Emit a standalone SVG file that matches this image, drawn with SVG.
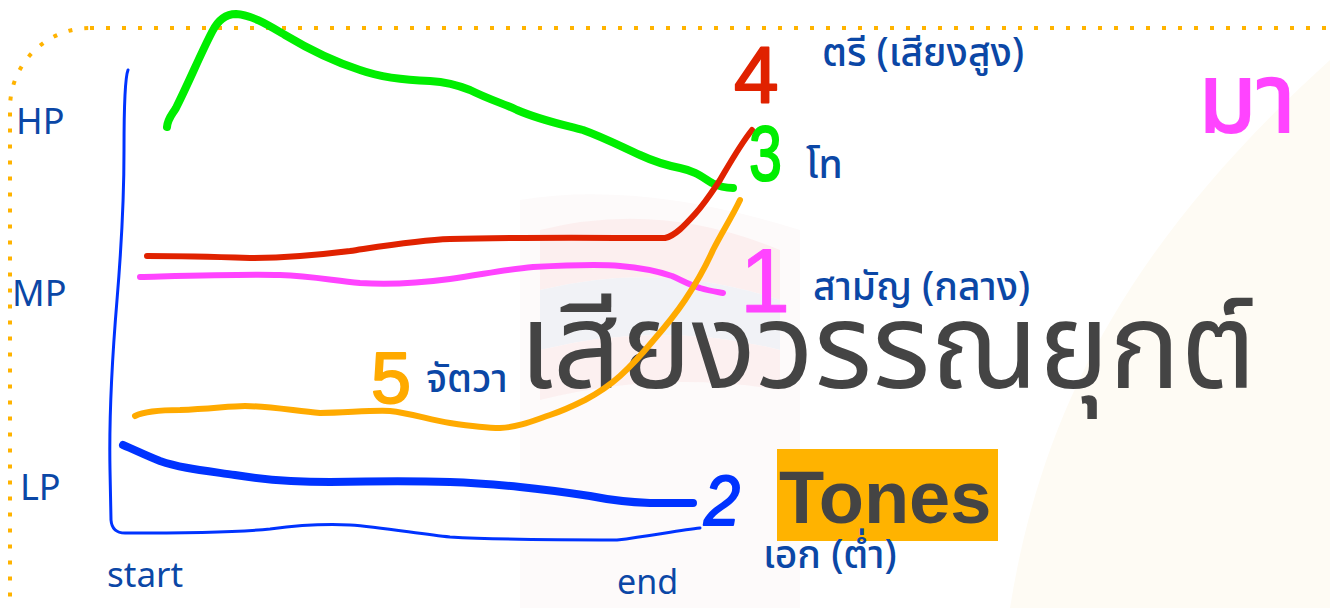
<svg xmlns="http://www.w3.org/2000/svg" width="1330" height="608" viewBox="0 0 1330 608">
<style>
.lbl{font-family:"Noto Sans Thai","Noto Sans","Liberation Sans",sans-serif;fill:#0b47a6}
.th{font-family:"Noto Sans Thai","Noto Sans","DejaVu Sans",sans-serif;fill:#0b47a6;font-weight:500;font-size:39px}
.hand{fill:none;stroke-linecap:round;stroke-linejoin:round}
.dig{font-family:"Liberation Sans",sans-serif;stroke-linejoin:round;stroke-linecap:round}
</style>
<rect width="1330" height="608" fill="#ffffff"/>
<g id="background">
<path d="M1010 608 C1040 420 1120 250 1330 60 L1330 608 Z" fill="#fefbf4"/>
<path d="M520 610 L520 200 Q640 180 800 230 L800 610 Z" fill="#fdfafa"/>
<path d="M540 230 Q660 200 780 250 L780 300 Q660 260 540 290 Z" fill="#fcefef"/>
<path d="M540 290 Q660 260 780 300 L780 350 Q660 320 540 350 Z" fill="#f1f2f6"/>
<path d="M540 350 Q660 320 780 350 L780 390 Q660 370 540 400 Z" fill="#fcf0f0"/>
</g>
<rect id="frame" x="10" y="28" width="1500" height="700" rx="80" fill="none" stroke="#ffb300" stroke-width="4" stroke-dasharray="4 12"/>
<g id="title">
<text x="519" y="388" font-family="'Noto Sans Thai','Noto Sans','DejaVu Sans',sans-serif" font-size="119" fill="#444444">เสียงวรรณยุกต์</text>
</g>
<g id="tones">
<rect x="777" y="449" width="221" height="92" fill="#ffb300"/>
<text x="779" y="523" font-family="'Liberation Sans',sans-serif" font-weight="bold" font-size="74" fill="#444444">Tones</text>
</g>
<g id="axis-labels">
<text class="lbl" x="16" y="134" font-size="36">HP</text>
<text class="lbl" x="12" y="306" font-size="36">MP</text>
<text class="lbl" x="20" y="500" font-size="36">LP</text>
<text class="lbl" x="107" y="587" font-size="35">start</text>
<text class="lbl" x="617" y="594" font-size="34">end</text>
</g>
<g id="connectors">
<path id="axis" class="hand" stroke="#0033ff" stroke-width="3" d="M128 70 C124 80 124 120 124 150 C124 200 122 240 117 300 C112 360 109 420 110 470 L111 520 Q112 533 125 533 C180 533 240 532 270 529 C300 525 330 524 350 525 C380 527 420 534 450 537 C500 540 560 540 617 540 C650 536 680 530 700 528"/>
<path id="tone3-line" class="hand" stroke="#00ee00" stroke-width="8" d="M167 127 C168 118 172 115 176 108 C190 80 200 55 212 32 C218 20 226 14 236 14 C252 15 268 25 285 35 C310 50 335 62 360 70 C380 77 400 80 430 81 C445 82 455 84 470 90 C490 100 505 104 517 110 C540 120 560 124 583 130 C605 138 620 146 640 155 C655 162 665 165 680 168 C695 171 702 177 712 183 C720 187 726 188 733 188"/>
<path id="tone4-line" class="hand" stroke="#e02200" stroke-width="6" d="M147 256 C190 256 220 257 250 258 C280 258 310 256 350 251 C390 245 420 240 450 239 C520 237 600 238 665 238 C675 236 685 225 695 214 C705 203 712 192 720 180 C730 163 740 145 752 130"/>
<path id="tone1-line" class="hand" stroke="#ff44ff" stroke-width="6" d="M140 277 C180 276 240 274 280 275 C310 276 330 280 360 283 C390 285 420 283 450 279 C490 273 510 269 533 267 C570 265 600 264 620 266 C645 268 660 272 672 276 C685 282 692 286 700 288 C710 291 718 292 723 293"/>
<path id="tone5-line" class="hand" stroke="#ffaa00" stroke-width="6" d="M135 416 C145 411 165 410 180 410 C210 409 230 406 245 406 C265 406 290 410 320 413 C345 413 370 410 390 411 C410 413 430 420 450 423 C470 426 485 428 500 428 C520 427 535 420 550 415 C565 410 575 405 585 400 C600 392 610 385 620 376 C632 365 642 354 652 342 C665 327 675 315 685 300 C695 285 705 268 713 250 C722 232 732 217 740 200"/>
<path id="tone2-line" class="hand" stroke="#0033ff" stroke-width="8" d="M123 445 C135 450 145 455 160 461 C180 468 200 470 235 475 C260 479 290 482 330 482 C380 481 420 481 450 482 C480 483 500 485 520 487 C550 490 570 493 590 496 C610 500 625 502 650 503 C665 503 680 503 693 503"/>
</g>
<g id="tone4">
<text class="dig" x="734" y="102" font-size="80" fill="#e02200" stroke="#e02200" stroke-width="2">4</text>
<text class="th" x="822" y="66">ตรี (เสียงสูง)</text>
</g>
<g id="tone3">
<text class="dig" x="749" y="180" font-size="78" fill="#00ee00" stroke="#00ee00" stroke-width="2" textLength="33" lengthAdjust="spacingAndGlyphs">3</text>
<text class="th" x="806" y="178">โท</text>
</g>
<g id="tone1">
<text class="dig" x="740" y="312" font-size="90" fill="#ff44ff" stroke="#ff44ff" stroke-width="1">1</text>
<text class="th" x="813" y="300">สามัญ (กลาง)</text>
</g>
<g id="tone5">
<text class="dig" x="371" y="403" font-size="72" fill="#ffaa00" stroke="#ffaa00" stroke-width="2" textLength="40" lengthAdjust="spacingAndGlyphs">5</text>
<text class="th" x="426" y="392">จัตวา</text>
</g>
<g id="tone2">
<text class="dig" x="704" y="525" font-size="70" font-style="italic" fill="#0033ff" stroke="#0033ff" stroke-width="2" textLength="36" lengthAdjust="spacingAndGlyphs">2</text>
<text class="th" x="763" y="568">เอก (ต่ำ)</text>
</g>
<g id="example">
<text x="1198" y="132" font-family="'Noto Sans Thai','Noto Sans','DejaVu Sans',sans-serif" font-size="96" fill="#ff44ff" stroke="#ff44ff" stroke-width="2">มา</text>
</g>
</svg>
